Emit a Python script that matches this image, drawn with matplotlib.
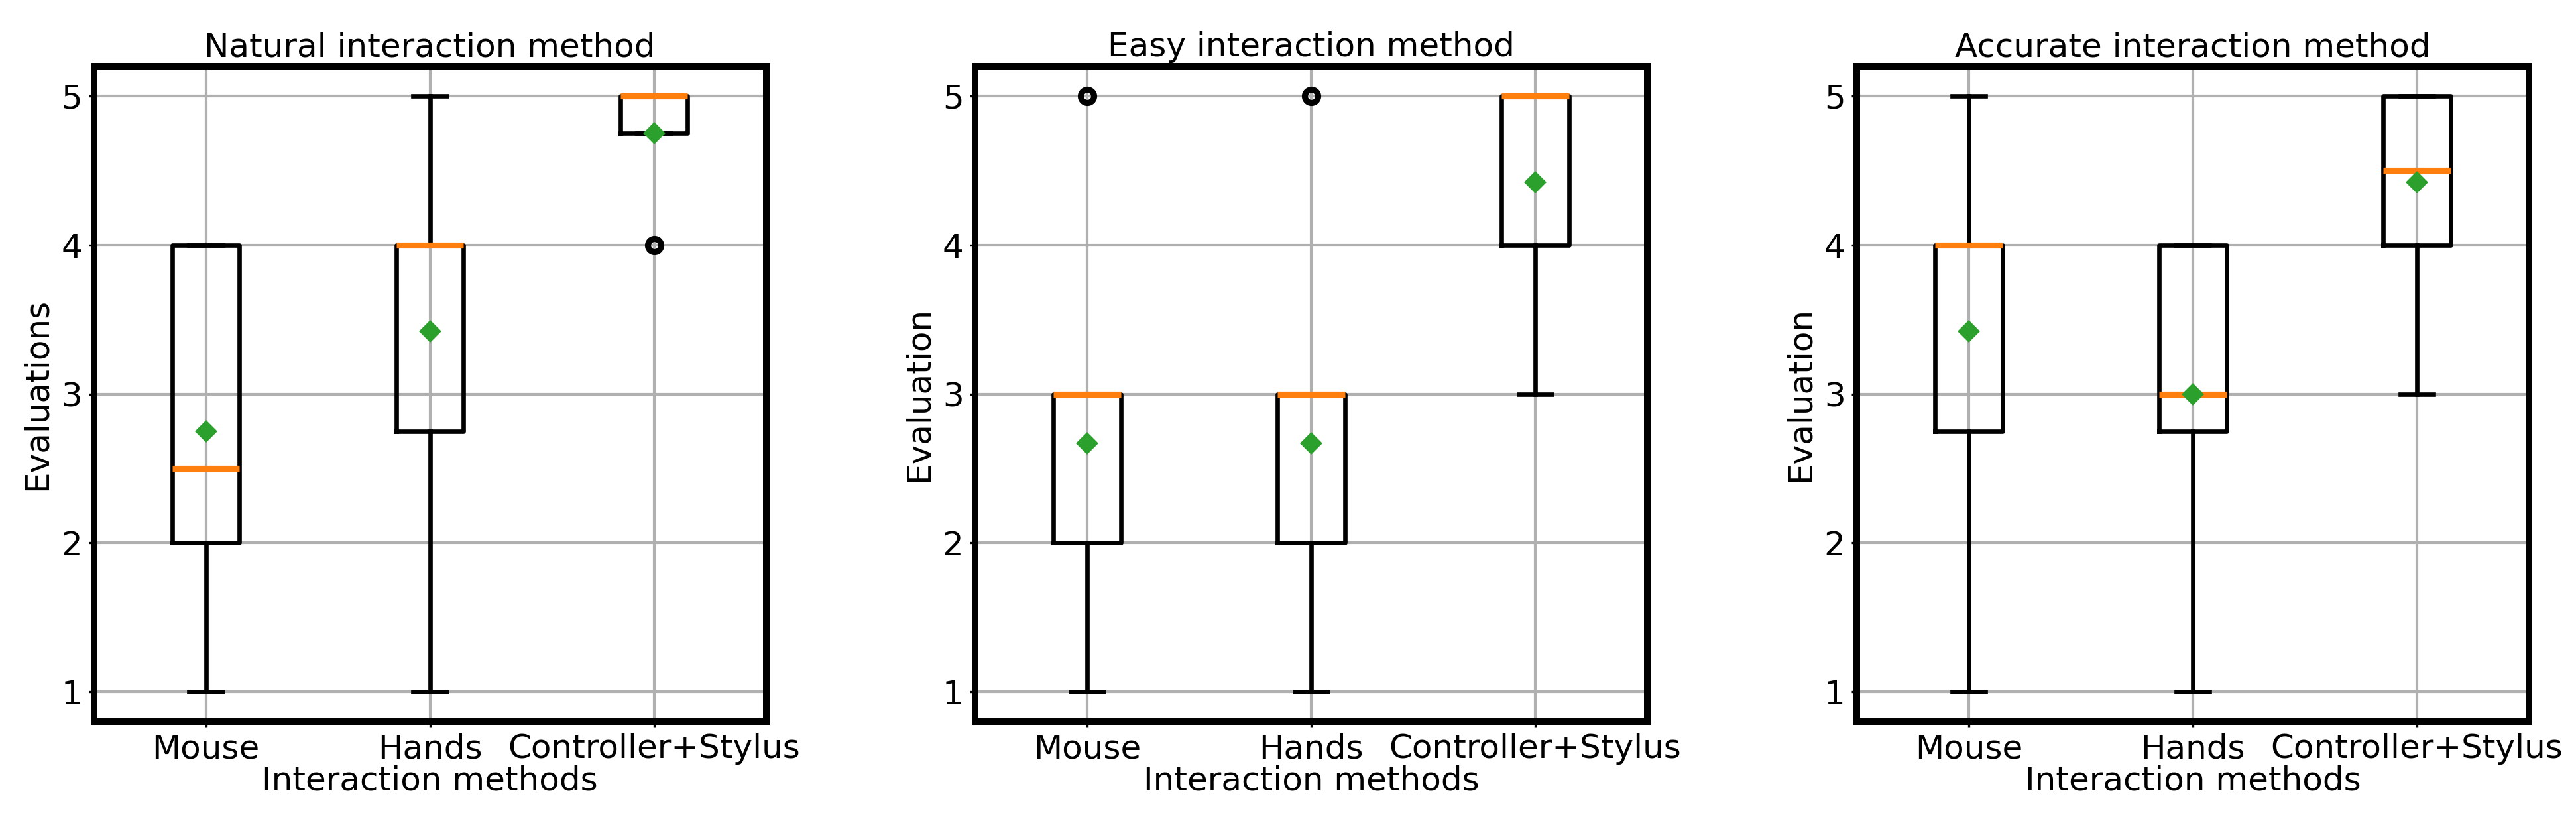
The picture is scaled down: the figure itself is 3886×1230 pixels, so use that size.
"""Box plots of user ratings for three interaction methods."""
import matplotlib
matplotlib.use("Agg")
import matplotlib.pyplot as plt

methods = ["Mouse", "Hands", "Controller+Stylus"]
panel_titles = ["Natural interaction method", "Easy interaction method", "Accurate interaction method"]
y_labels = ["Evaluations", "Evaluation", "Evaluation"]

# per panel, per method: lower whisker, Q1, median, Q3, upper whisker, mean, outliers
natural_whislo = [1, 1, 4.75]
natural_q1 = [2, 2.75, 4.75]
natural_med = [2.5, 4, 5]
natural_q3 = [4, 4, 5]
natural_whishi = [4, 5, 5]
natural_mean = [2.75, 3.42, 4.75]
natural_fliers = [[], [], [4]]

easy_whislo = [1, 1, 3]
easy_q1 = [2, 2, 4]
easy_med = [3, 3, 5]
easy_q3 = [3, 3, 5]
easy_whishi = [3, 3, 5]
easy_mean = [2.67, 2.67, 4.42]
easy_fliers = [[5], [5], []]

accurate_whislo = [1, 1, 3]
accurate_q1 = [2.75, 2.75, 4]
accurate_med = [4, 3, 4.5]
accurate_q3 = [4, 4, 5]
accurate_whishi = [5, 4, 5]
accurate_mean = [3.42, 3.0, 4.42]
accurate_fliers = [[], [], []]

panels = [
    (natural_whislo, natural_q1, natural_med, natural_q3, natural_whishi, natural_mean, natural_fliers),
    (easy_whislo, easy_q1, easy_med, easy_q3, easy_whishi, easy_mean, easy_fliers),
    (accurate_whislo, accurate_q1, accurate_med, accurate_q3, accurate_whishi, accurate_mean, accurate_fliers),
]

FS = 12.0
W, H = 3886, 1230
DPI = 300
fig = plt.figure(figsize=(W / DPI, H / DPI), dpi=DPI)
lefts = [141.5, 1471, 2801]
ax_w, ax_bot, ax_h = 1014, 141, 989

line_kw = dict(color="black", linewidth=1.6)
for i, (lo, q1, med, q3, hi, mean, fl) in enumerate(panels):
    ax = fig.add_axes([lefts[i] / W, ax_bot / H, ax_w / W, ax_h / H])
    stats = []
    for j, m in enumerate(methods):
        stats.append(dict(label=m, whislo=lo[j], q1=q1[j], med=med[j], q3=q3[j],
                          whishi=hi[j], mean=mean[j], fliers=fl[j]))
    ax.bxp(stats, showmeans=True,
           boxprops=line_kw, whiskerprops=line_kw, capprops=line_kw,
           medianprops=dict(color="#ff7f0e", linewidth=2.2),
           meanprops=dict(marker="D", markerfacecolor="#2ca02c", markeredgecolor="#2ca02c",
                          markersize=4.6),
           flierprops=dict(marker="o", markerfacecolor="none", markeredgecolor="black",
                           markersize=4.8, markeredgewidth=2.2))
    ax.set_ylim(0.8, 5.2)
    ax.set_xlim(0.5, 3.5)
    ax.set_yticks([1, 2, 3, 4, 5])
    ax.grid(True, color="#b0b0b0", linewidth=1.0)
    for s in ax.spines.values():
        s.set_linewidth(2.4)
    ax.tick_params(labelsize=FS, length=2, width=0.8, pad=2.2)
    ax.set_title(panel_titles[i], fontsize=FS, pad=3.5)
    ax.set_xlabel("Interaction methods", fontsize=FS, labelpad=0)
    ax.set_ylabel(y_labels[i], fontsize=FS, labelpad=3)

fig.savefig("out.png", dpi=DPI)
